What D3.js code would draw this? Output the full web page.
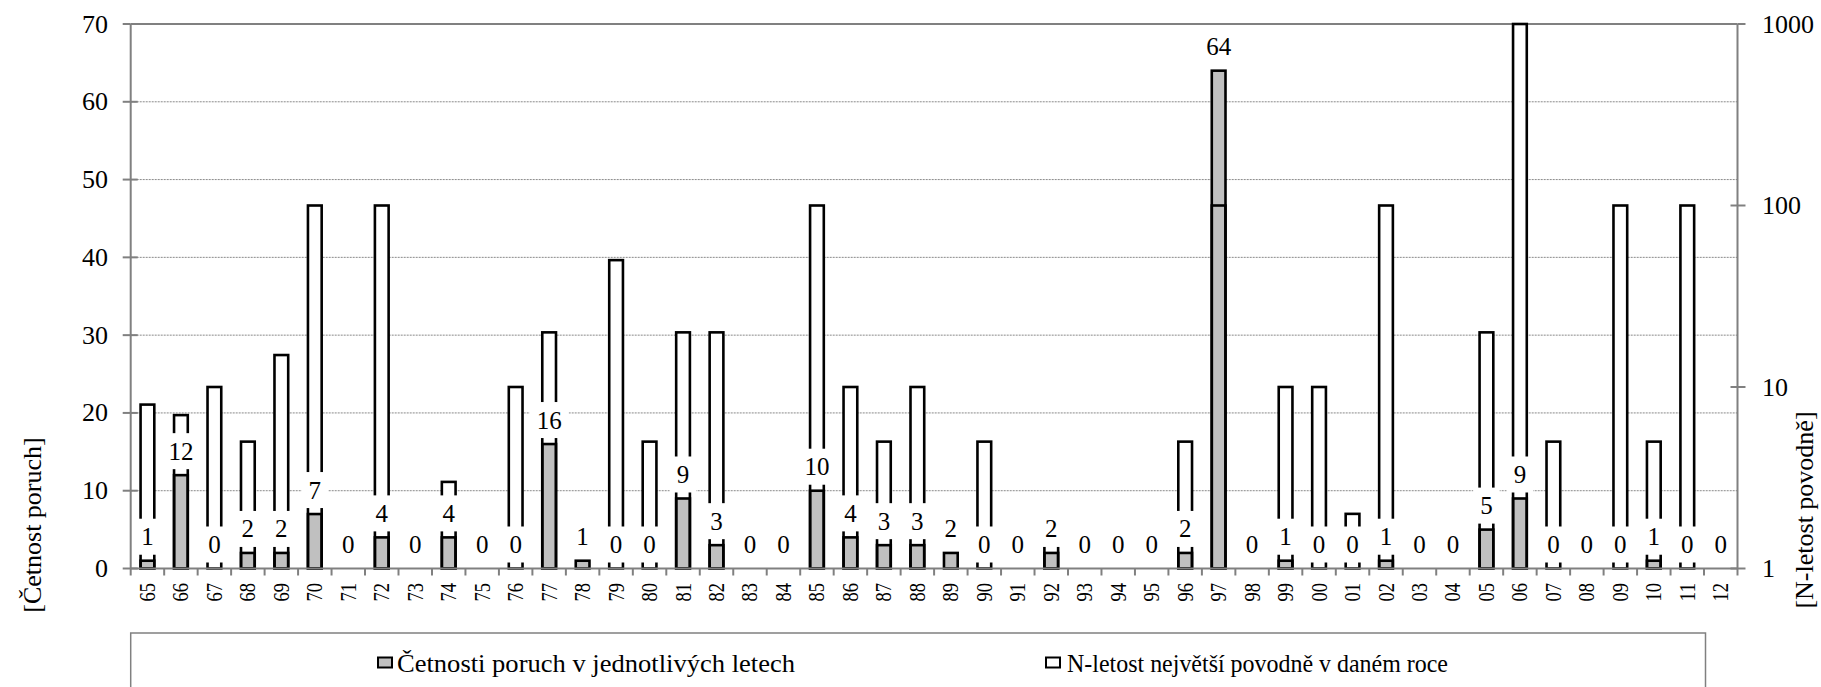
<!DOCTYPE html>
<html>
<head>
<meta charset="utf-8">
<script src="https://cdn.jsdelivr.net/npm/d3@7"></script>
<style>
  body { margin: 0; background: #fff; }
  svg text { font-family: "Liberation Serif", "Times New Roman", Tinos, "DejaVu Serif", serif; fill: #000; }
</style>
</head>
<body>
<svg id="chart" width="1821" height="687" font-family="Liberation Serif, DejaVu Serif, serif"></svg>
<script>
// years (two digit labels)
var years = ["65","66","67","68","69","70","71","72","73","74","75","76","77","78","79","80",
  "81","82","83","84","85","86","87","88","89","90","91","92","93","94","95","96","97","98","99",
  "00","01","02","03","04","05","06","07","08","09","10","11","12"]

// cetnosti poruch (left axis)
var failures = [1,12,0,2,2,7,0,4,0,4,0,0,16,1,0,0,
  9,3,0,0,10,4,3,3,2,0,0,2,0,0,0,2,64,0,1,
  0,0,1,0,0,5,9,0,0,0,1,0,0]

// N-letost povodne (right log axis), null = no flood bar
var floodN = [8,7,10,5,15,100,null,100,null,3,null,10,20,null,50,5,
  20,20,null,null,100,10,5,10,null,5,null,2,null,null,null,5,100,null,10,
  10,2,100,null,null,20,1000,5,null,100,5,100,null]

var leftTicks = [0,10,20,30,40,50,60,70]
var rightTicks = [1,10,100,1000]

var seriesNames = ["Četnosti poruch v jednotlivých letech", "N-letost největší povodně v daném roce"]

var serif = "'Liberation Serif', 'Times New Roman', 'DejaVu Serif', serif"
var margin = {left: 130.7, right: 1737.5, top: 24, bottom: 568.5}
var svg = d3.select("#chart")

var x = d3.scaleBand().domain(years).range([margin.left, margin.right]).padding(0)
var yL = d3.scaleLinear().domain([0, 70]).range([margin.bottom, margin.top])
var yR = d3.scaleLog().domain([1, 1000]).range([margin.bottom, margin.top])
var barW = x.bandwidth() * 0.41
var axisColor = "#808080"

// gridlines
svg.append("g").selectAll("line")
    .data(leftTicks.filter(function(d){ return d > 0 && d < 70 }))
  .enter().append("line")
    .attr("x1", margin.left).attr("x2", margin.right)
    .attr("y1", function(d){ return yL(d) }).attr("y2", function(d){ return yL(d) })
    .attr("stroke", "#8a8a8a").attr("stroke-width", 1).attr("stroke-dasharray", "2,1")

// top border
svg.append("line")
    .attr("x1", margin.left).attr("x2", margin.right)
    .attr("y1", yL(70)).attr("y2", yL(70))
    .attr("stroke", axisColor).attr("stroke-width", 2)

var floodData = years.map(function(y, i){ return {year: y, v: floodN[i]} }).filter(function(d){ return d.v != null })
var failData = years.map(function(y, i){ return {year: y, v: failures[i]} })

// flood bars, white fill first
svg.append("g").selectAll("rect")
    .data(floodData)
  .enter().append("rect")
    .attr("x", function(d){ return x(d.year) + x.bandwidth()/2 - barW/2 })
    .attr("width", barW)
    .attr("y", function(d){ return yR(d.v) })
    .attr("height", function(d){ return yR(1) - yR(d.v) })
    .attr("fill", "#fff")

// failure bars
svg.append("g").selectAll("rect")
    .data(failData.filter(function(d){ return d.v > 0 }))
  .enter().append("rect")
    .attr("x", function(d){ return x(d.year) + x.bandwidth()/2 - barW/2 })
    .attr("width", barW)
    .attr("y", function(d){ return yL(d.v) })
    .attr("height", function(d){ return yL(0) - yL(d.v) })
    .attr("fill", "#c0c0c0")
    .attr("stroke", "#000").attr("stroke-width", 2.6)

// flood bar outlines on top
svg.append("g").selectAll("rect")
    .data(floodData)
  .enter().append("rect")
    .attr("x", function(d){ return x(d.year) + x.bandwidth()/2 - barW/2 })
    .attr("width", barW)
    .attr("y", function(d){ return yR(d.v) })
    .attr("height", function(d){ return yR(1) - yR(d.v) })
    .attr("fill", "none")
    .attr("stroke", "#000").attr("stroke-width", 2.6)

// data labels with white boxes
var labels = svg.append("g").selectAll("g")
    .data(failData)
  .enter().append("g")
    .attr("transform", function(d){ return "translate(" + (x(d.year) + x.bandwidth()/2) + "," + (yL(d.v) - 24) + ")" })
labels.append("rect")
    .attr("fill", "#fff")
labels.append("text")
    .attr("text-anchor", "middle")
    .attr("dominant-baseline", "central")
    .attr("font-family", serif)
    .attr("font-size", 25)
    .text(function(d){ return d.v })
labels.each(function(){
  var g = d3.select(this)
  var w = g.select("text").node().getComputedTextLength() + 14
  g.select("rect").attr("x", -w/2).attr("width", w).attr("y", -18).attr("height", 36)
})

// left axis
var leftAxis = svg.append("g")
leftAxis.append("line")
    .attr("x1", margin.left).attr("x2", margin.left)
    .attr("y1", margin.top).attr("y2", margin.bottom)
    .attr("stroke", axisColor).attr("stroke-width", 2)
leftAxis.selectAll(".tick").data(leftTicks).enter().append("line")
    .attr("x1", margin.left - 8).attr("x2", function(d){ return d == 70 ? margin.left : margin.left + 7 })
    .attr("y1", function(d){ return yL(d) }).attr("y2", function(d){ return yL(d) })
    .attr("stroke", axisColor).attr("stroke-width", 2)
leftAxis.selectAll("text").data(leftTicks).enter().append("text")
    .attr("x", 108).attr("y", function(d){ return yL(d) })
    .attr("text-anchor", "end").attr("dominant-baseline", "central")
    .attr("font-family", serif)
    .attr("font-size", 26)
    .text(function(d){ return d })

// right axis
var rightAxis = svg.append("g")
rightAxis.append("line")
    .attr("x1", margin.right).attr("x2", margin.right)
    .attr("y1", margin.top).attr("y2", margin.bottom)
    .attr("stroke", axisColor).attr("stroke-width", 2)
rightAxis.selectAll(".tick").data(rightTicks).enter().append("line")
    .attr("x1", function(d){ return d == 1000 ? margin.right : margin.right - 7 }).attr("x2", margin.right + 8)
    .attr("y1", function(d){ return yR(d) }).attr("y2", function(d){ return yR(d) })
    .attr("stroke", axisColor).attr("stroke-width", 2)
rightAxis.selectAll("text").data(rightTicks).enter().append("text")
    .attr("x", 1762).attr("y", function(d){ return yR(d) })
    .attr("dominant-baseline", "central")
    .attr("font-family", serif)
    .attr("font-size", 26)
    .text(function(d){ return d })

// bottom axis
var bottomAxis = svg.append("g")
bottomAxis.append("line")
    .attr("x1", margin.left).attr("x2", margin.right)
    .attr("y1", margin.bottom).attr("y2", margin.bottom)
    .attr("stroke", axisColor).attr("stroke-width", 2)
bottomAxis.selectAll(".tick").data(years.concat(["end"])).enter().append("line")
    .attr("x1", function(d){ return d == "end" ? margin.right : x(d) })
    .attr("x2", function(d){ return d == "end" ? margin.right : x(d) })
    .attr("y1", margin.bottom).attr("y2", margin.bottom + 7)
    .attr("stroke", axisColor).attr("stroke-width", 2)
bottomAxis.selectAll("text").data(years).enter().append("text")
    .attr("transform", function(d){ return "translate(" + (x(d) + x.bandwidth()/2) + "," + 583 + ") rotate(-90)" })
    .attr("text-anchor", "end").attr("dominant-baseline", "central")
    .attr("font-family", serif)
    .attr("font-size", 23)
    .attr("textLength", 18.5).attr("lengthAdjust", "spacingAndGlyphs")
    .text(function(d){ return d })

// axis titles
svg.append("text")
    .attr("transform", "translate(32,525) rotate(-90)")
    .attr("text-anchor", "middle").attr("dominant-baseline", "central")
    .attr("font-family", serif)
    .attr("font-size", 26)
    .text("[Četnost poruch]")
svg.append("text")
    .attr("transform", "translate(1804,510) rotate(-90)")
    .attr("text-anchor", "middle").attr("dominant-baseline", "central")
    .attr("font-family", serif)
    .attr("font-size", 26)
    .text("[N-letost povodně]")

// legend
var legend = svg.append("g")
legend.append("rect")
    .attr("x", margin.left).attr("y", 633)
    .attr("width", 1705.5 - margin.left).attr("height", 80)
    .attr("fill", "#fff").attr("stroke", axisColor).attr("stroke-width", 1.5)
var legendItems = [
  {name: seriesNames[0], fill: "#c0c0c0", sx: 377, tx: 397, tw: 398},
  {name: seriesNames[1], fill: "#fff", sx: 1045, tx: 1067, tw: 381}
]
legend.selectAll(".sym").data(legendItems).enter().append("rect")
    .attr("x", function(d){ return d.sx + 1 }).attr("y", 657.5)
    .attr("width", 14).attr("height", 10)
    .attr("fill", function(d){ return d.fill })
    .attr("stroke", "#000").attr("stroke-width", 2)
legend.selectAll("text").data(legendItems).enter().append("text")
    .attr("x", function(d){ return d.tx }).attr("y", 663)
    .attr("dominant-baseline", "central")
    .attr("font-family", serif)
    .attr("font-size", 26)
    .attr("textLength", function(d){ return d.tw }).attr("lengthAdjust", "spacingAndGlyphs")
    .text(function(d){ return d.name })
</script>
</body>
</html>
